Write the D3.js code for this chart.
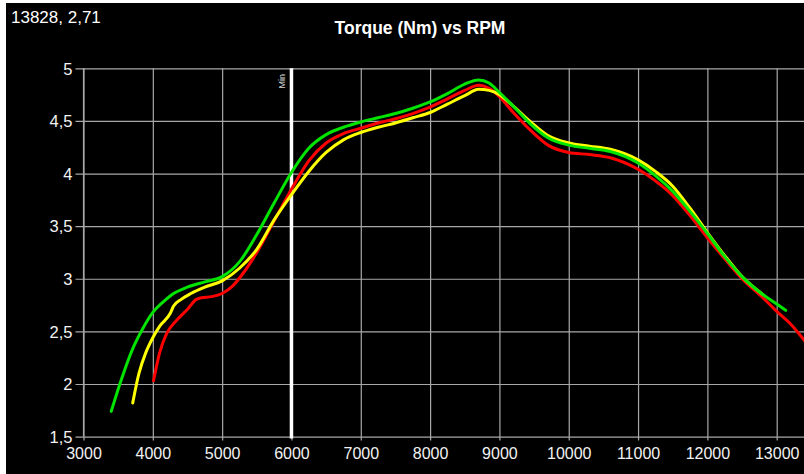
<!DOCTYPE html>
<html>
<head>
<meta charset="utf-8">
<script src="https://cdnjs.cloudflare.com/ajax/libs/d3/7.8.5/d3.min.js"></script>
<style>
  html, body { margin: 0; padding: 0; background: #000; }
  svg { display: block; }
  text { font-family: "Liberation Sans", Arial, sans-serif; }
</style>
</head>
<body>
<svg id="chart" width="804" height="474"></svg>
<script>
// ---- Data ----
const title = "Torque (Nm) vs RPM";
const cursorText = "13828, 2,71";
const markerRpm = 6000;
const markerLabel = "Min";

const xTicks = [3000, 4000, 5000, 6000, 7000, 8000, 9000, 10000, 11000, 12000, 13000];
const yTicks = [1.5, 2, 2.5, 3, 3.5, 4, 4.5, 5];
const yTickLabels = ["1,5", "2", "2,5", "3", "3,5", "4", "4,5", "5"];

const redRpm = [4010, 4100, 4200, 4350, 4500, 4620, 4700, 4850, 5000, 5150, 5300, 5500, 5750, 6000, 6250, 6500, 6750, 7000, 7250, 7500, 7750, 8000, 8250, 8500, 8700, 8850, 9000, 9200, 9450, 9700, 10000, 10300, 10600, 11000, 11250, 11500, 11750, 12000, 12250, 12500, 12800, 13000, 13200, 13450];
const redTorque = [2.03, 2.30, 2.48, 2.61, 2.71, 2.80, 2.82, 2.83, 2.86, 2.93, 3.05, 3.25, 3.55, 3.85, 4.12, 4.29, 4.38, 4.43, 4.48, 4.52, 4.57, 4.63, 4.71, 4.79, 4.84, 4.81, 4.73, 4.58, 4.41, 4.27, 4.20, 4.18, 4.15, 4.04, 3.93, 3.79, 3.60, 3.39, 3.19, 3.00, 2.82, 2.69, 2.57, 2.37];

const yellowRpm = [3710, 3800, 3900, 4000, 4100, 4250, 4300, 4400, 4550, 4750, 5000, 5250, 5500, 5750, 6000, 6250, 6500, 6750, 7000, 7250, 7500, 7750, 8000, 8250, 8500, 8700, 8850, 9000, 9200, 9450, 9700, 10000, 10300, 10600, 11000, 11250, 11500, 11750, 12000, 12250, 12500, 12800];
const yellowTorque = [1.82, 2.10, 2.30, 2.44, 2.55, 2.67, 2.74, 2.80, 2.86, 2.92, 2.98, 3.10, 3.28, 3.56, 3.80, 4.02, 4.20, 4.32, 4.39, 4.44, 4.48, 4.53, 4.58, 4.66, 4.74, 4.80, 4.79, 4.75, 4.64, 4.49, 4.36, 4.29, 4.26, 4.23, 4.13, 4.02, 3.88, 3.67, 3.44, 3.22, 3.02, 2.85];

const greenRpm = [3400, 3550, 3700, 3850, 4000, 4150, 4300, 4500, 4750, 5000, 5250, 5500, 5750, 6000, 6250, 6500, 6750, 7000, 7250, 7500, 7750, 8000, 8250, 8500, 8700, 8850, 9000, 9200, 9450, 9700, 10000, 10300, 10600, 11000, 11250, 11500, 11750, 12000, 12250, 12500, 12800, 13000, 13130];
const greenTorque = [1.74, 2.05, 2.32, 2.52, 2.68, 2.78, 2.86, 2.92, 2.97, 3.02, 3.16, 3.42, 3.72, 4.01, 4.24, 4.37, 4.44, 4.49, 4.53, 4.57, 4.62, 4.68, 4.76, 4.85, 4.89, 4.86, 4.77, 4.64, 4.47, 4.34, 4.27, 4.24, 4.21, 4.10, 3.98, 3.83, 3.64, 3.43, 3.21, 3.02, 2.85, 2.76, 2.70];

const seriesNames = ["red", "yellow", "green"];
const seriesColors = ["#ff0000", "#ffff00", "#00e400"];
const seriesRpm = [redRpm, yellowRpm, greenRpm];
const seriesTorque = [redTorque, yellowTorque, greenTorque];

// ---- Layout ----
const W = 804, H = 474;
const plot = { left: 83.5, right: 804, top: 68.3, bottom: 436.6 };
const svg = d3.select("#chart");

// frame: white strips on left and top, black canvas
svg.append("rect").attr("x", 0).attr("y", 0).attr("width", W).attr("height", H).attr("fill", "#ffffff");
svg.append("rect").attr("x", 6).attr("y", 3).attr("width", W - 6).attr("height", H - 3).attr("fill", "#000000");

const x = d3.scaleLinear().domain([3000, 13000]).range([plot.left, 776.7]);
const y = d3.scaleLinear().domain([1.5, 5]).range([plot.bottom, plot.top]);

const gridColor = "#a8a8a8";
const textColor = "#f2f2f2";

// vertical grid + x ticks
const xAxis = d3.axisBottom(x).tickValues(xTicks).tickSize(plot.bottom - plot.top + 4).tickFormat(d => d);
const gx = svg.append("g").attr("transform", `translate(0,${plot.top})`).call(xAxis);
gx.select(".domain").remove();
gx.selectAll(".tick line").attr("stroke", gridColor).attr("stroke-width", 1.2);
gx.selectAll(".tick text").attr("fill", textColor).attr("font-size", 16)
  .attr("y", plot.bottom - plot.top + 11).attr("dy", "0.71em");

// horizontal grid + y ticks
const yAxis = d3.axisLeft(y).tickValues(yTicks).tickSize(0).tickFormat((d, i) => yTickLabels[i]);
const gy = svg.append("g").attr("transform", `translate(${plot.left},0)`).call(yAxis);
gy.select(".domain").remove();
gy.selectAll(".tick line").attr("x1", -8).attr("x2", plot.right - plot.left).attr("stroke", gridColor).attr("stroke-width", 1.2);
gy.selectAll(".tick text").attr("fill", textColor).attr("font-size", 16.5).attr("x", -11).attr("dy", "0.35em");

// left axis line
svg.append("line").attr("x1", plot.left).attr("x2", plot.left).attr("y1", plot.top).attr("y2", plot.bottom)
  .attr("stroke", gridColor).attr("stroke-width", 1.2);

// clip
svg.append("clipPath").attr("id", "clip").append("rect")
  .attr("x", plot.left).attr("y", plot.top - 5).attr("width", plot.right - plot.left).attr("height", plot.bottom - plot.top + 5);

// marker line
svg.append("line").attr("x1", x(markerRpm)).attr("x2", x(markerRpm)).attr("y1", plot.top).attr("y2", plot.bottom + 2)
  .attr("stroke", "#ffffff").attr("stroke-width", 3.5);
svg.append("text").attr("transform", `translate(${x(markerRpm) - 6.5},${plot.top + 13}) rotate(-90)`)
  .attr("text-anchor", "middle").attr("font-size", 9).attr("fill", "#d8d8d8").text(markerLabel);

// curves
const line = d3.line().x(d => x(d[0])).y(d => y(d[1])).curve(d3.curveMonotoneX);
const gl = svg.append("g").attr("clip-path", "url(#clip)");
seriesNames.forEach((name, i) => {
  const pts = seriesRpm[i].map((r, j) => [r, seriesTorque[i][j]]);
  gl.append("path").datum(pts).attr("d", line).attr("fill", "none")
    .attr("stroke", seriesColors[i]).attr("stroke-width", 3).attr("stroke-linejoin", "round").attr("stroke-linecap", "round");
});

// title & cursor readout
svg.append("text").attr("x", 420).attr("y", 34).attr("text-anchor", "middle")
  .attr("font-size", 17.5).attr("font-weight", "bold").attr("fill", "#ffffff").text(title);
svg.append("text").attr("x", 11).attr("y", 23).attr("font-size", 17).attr("fill", "#ffffff").text(cursorText);
</script>
</body>
</html>
